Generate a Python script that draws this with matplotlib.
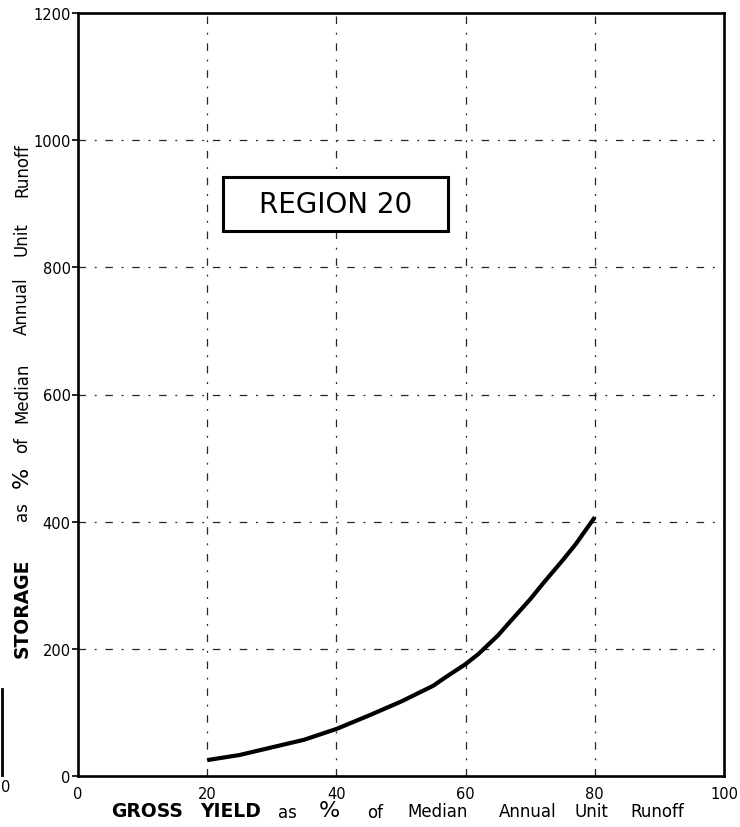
import matplotlib
matplotlib.use("Agg")
import matplotlib.pyplot as plt
from matplotlib.patches import Rectangle
from matplotlib.lines import Line2D

# ---- data ----
gross_yield = [20, 25, 30, 35, 40, 45, 50, 52, 55, 57, 60, 62, 65, 67, 70, 72, 75, 77, 80]
storage = [25, 33, 45, 57, 74, 95, 117, 127, 142, 156, 176, 192, 221, 244, 278, 303, 339, 364, 407]
x_ticks = [0, 20, 40, 60, 80, 100]
x_tick_labels = ["0", "20", "40", "60", "80", "100"]
y_ticks = [0, 200, 400, 600, 800, 1000, 1200]
y_tick_labels = ["0", "200", "400", "600", "800", "1000", "1200"]
region_label = "REGION 20"

W, H = 740, 828
fig = plt.figure(figsize=(W / 100, H / 100), dpi=100)
fig.patch.set_facecolor("white")

def fx(px):
    return px / W

def fy(py):
    return 1 - py / H

ax = fig.add_axes([fx(78), fy(777), fx(724) - fx(78), fy(14) - fy(777)])
ax.set_xlim(0, 100)
ax.set_ylim(0, 1200)

# grid (broken dash-dot lines)
for gx in x_ticks[1:-1]:
    ax.axvline(gx, color="0.15", lw=0.9, dashes=(6, 7, 1.5, 7), zorder=1)
for gy in y_ticks[1:-1]:
    ax.axhline(gy, color="0.15", lw=0.9, dashes=(6, 7, 1.5, 7), zorder=1)

# curve
ax.plot(gross_yield, storage, color="black", lw=3.0, solid_capstyle="butt",
        solid_joinstyle="round", zorder=3)

# spines
for s in ax.spines.values():
    s.set_linewidth(1.9)
    s.set_color("black")

ax.set_xticks(x_ticks)
ax.set_xticklabels(x_tick_labels)
ax.set_yticks(y_ticks)
ax.set_yticklabels(y_tick_labels)
ax.tick_params(axis="x", length=0, pad=7, labelsize=10.5)
ax.tick_params(axis="y", direction="out", length=4.3, width=1.2, pad=1, labelsize=10.5)

# region box
rx0, rx1 = (223 - 78) / 646, (448 - 78) / 646
ry0, ry1 = (777 - 232) / 763, (777 - 178) / 763
ax.add_patch(Rectangle((rx0, ry0), rx1 - rx0, ry1 - ry0, transform=ax.transAxes,
                       fill=True, facecolor="white", edgecolor="black", lw=2.2, zorder=4))
ax.text((rx0 + rx1) / 2, (ry0 + ry1) / 2, region_label, transform=ax.transAxes,
        ha="center", va="center", fontsize=20, family="DejaVu Sans", zorder=5)

# x axis label words
x_words = [("GROSS", 147, 812, "bold", 13.5), ("YIELD", 231, 812, "bold", 13.5),
           ("as", 287, 813, "normal", 12), ("%", 329, 811, "normal", 16),
           ("of", 375, 813, "normal", 12), ("Median", 438, 812, "normal", 12),
           ("Annual", 528, 812, "normal", 12), ("Unit", 591, 812, "normal", 12),
           ("Runoff", 657, 812, "normal", 12)]
for word, cx, cy, wt, fs in x_words:
    fig.text(fx(cx), fy(cy), word, ha="center", va="center", fontsize=fs, fontweight=wt)

# y axis label words (rotated)
y_words = [("STORAGE", 608, "bold", 13.5), ("as", 512, "normal", 12),
           ("%", 477, "normal", 16), ("of", 445, "normal", 12),
           ("Median", 393, "normal", 12), ("Annual", 306, "normal", 12),
           ("Unit", 239, "normal", 12), ("Runoff", 170, "normal", 12)]
for word, cy, wt, fs in y_words:
    fig.text(fx(22), fy(cy), word, ha="center", va="center", rotation=90,
             fontsize=fs, fontweight=wt)

# scan-edge remnants
fig.text(fx(6), fy(788), "0", ha="center", va="center", fontsize=10.5)
fig.add_artist(Line2D([fx(1.5), fx(1.5)], [fy(690), fy(776)], color="black", lw=2,
                      transform=fig.transFigure))

fig.savefig("out.png", dpi=100, facecolor="white")
